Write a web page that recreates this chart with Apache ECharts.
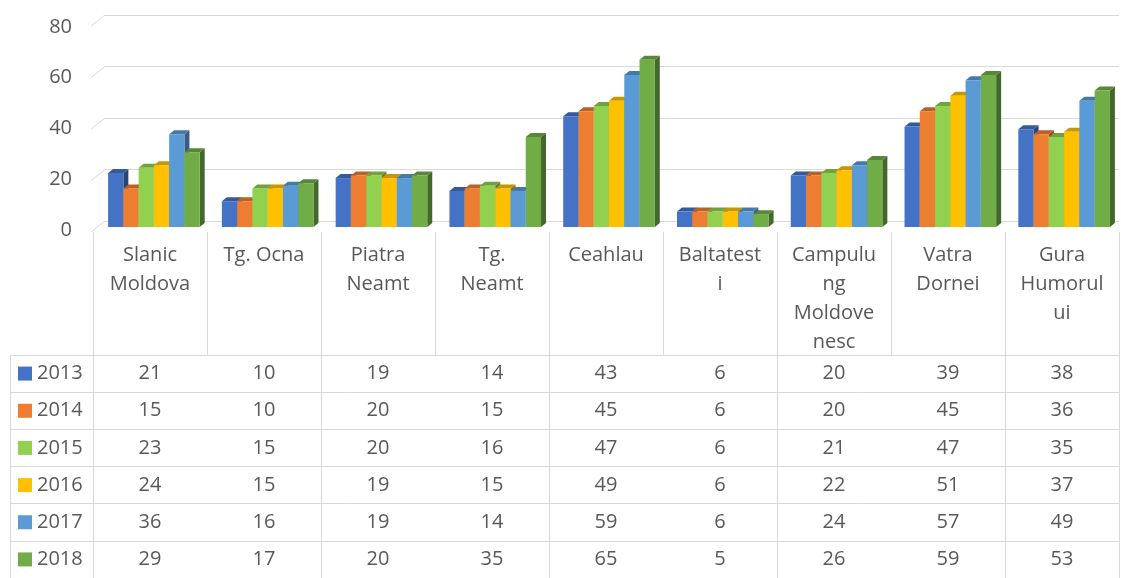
<!DOCTYPE html>
<html>
<head>
<meta charset="utf-8">
<script src="https://cdn.jsdelivr.net/npm/echarts@6/dist/echarts.min.js"></script>
<style>
  html, body { margin: 0; padding: 0; background: #fff; }
  #chart { width: 1121px; height: 578px; }
</style>
</head>
<body>
<div id="chart"></div>
<script>
const categories = ["Slanic Moldova", "Tg. Ocna", "Piatra Neamt", "Tg. Neamt", "Ceahlau", "Baltatesti", "Campulung Moldovenesc", "Vatra Dornei", "Gura Humorului"];
// wrapped the way the original table header breaks them
const categoryLabels = ["Slanic\nMoldova", "Tg. Ocna", "Piatra\nNeamt", "Tg.\nNeamt", "Ceahlau", "Baltatest\ni", "Campulu\nng\nMoldove\nnesc", "Vatra\nDornei", "Gura\nHumorul\nui"];
const years = ["2013", "2014", "2015", "2016", "2017", "2018"];
const values2013 = [21, 10, 19, 14, 43, 6, 20, 39, 38];
const values2014 = [15, 10, 20, 15, 45, 6, 20, 45, 36];
const values2015 = [23, 15, 20, 16, 47, 6, 21, 47, 35];
const values2016 = [24, 15, 19, 15, 49, 6, 22, 51, 37];
const values2017 = [36, 16, 19, 14, 59, 6, 24, 57, 49];
const values2018 = [29, 17, 20, 35, 65, 5, 26, 59, 53];
const yTicks = [0, 20, 40, 60, 80];

const allValues = [values2013, values2014, values2015, values2016, values2017, values2018];
const colors = ["#4472c4", "#ed7d31", "#92d050", "#ffc000", "#5b9bd5", "#70ad47"];
const textColor = "#595959";
const lineColor = "#d9d9d9";
const font = "Open Sans";

const chart = echarts.init(document.getElementById("chart"));

function darken(color, factor) {
  const c = echarts.color.parse(color);
  return `rgb(${Math.round(c[0] * factor)},${Math.round(c[1] * factor)},${Math.round(c[2] * factor)})`;
}

function bar3d(seriesIdx, color) {
  const topColor = darken(color, 0.78);
  const sideColor = darken(color, 0.6);
  return function (params, api) {
    const i = api.value(0);
    const base = api.coord([i, 0]);
    const top = api.coord([i, api.value(1)]);
    const band = api.size([1, 0])[0];
    const w = (band * 0.805) / years.length;
    const x0 = base[0] - band * 0.4025 + seriesIdx * w;
    const x1 = x0 + w;
    const dx = 5, dy = 4;
    return {
      type: "group",
      children: [
        { type: "polygon", shape: { points: [[x1, top[1]], [x1 + dx, top[1] - dy], [x1 + dx, base[1] - dy], [x1, base[1]]] }, style: { fill: sideColor } },
        { type: "polygon", shape: { points: [[x0, top[1]], [x0 + dx, top[1] - dy], [x1 + dx, top[1] - dy], [x1, top[1]]] }, style: { fill: topColor } },
        { type: "rect", shape: { x: x0, y: top[1], width: w, height: base[1] - top[1] }, style: { fill: color } },
      ],
    };
  };
}

const barSeries = years.map((year, k) => ({
  name: year,
  type: "custom",
  xAxisIndex: 2,
  yAxisIndex: 2,
  renderItem: bar3d(k, colors[k]),
  data: allValues[k].map((v, i) => [i, v]),
  silent: true,
}));

const tableData = [];
allValues.forEach((row, r) => row.forEach((v, i) => tableData.push([i, r, v])));

chart.setOption({
  animation: false,
  textStyle: { fontFamily: font },
  grid: [
    { left: 105, right: 2, top: 15, height: 206 },   // back wall gridlines
    { left: 80, width: 10, top: 27, height: 203 },    // y labels
    { left: 97, right: -5, top: 21, height: 206 },   // bars
    { left: 93, right: 2, top: 232, height: 123 },   // table header
    { left: 93, right: 2, top: 355, height: 228 },   // table body
    { left: 10, width: 83, top: 355, height: 228 },   // row headers
  ],
  xAxis: [
    { gridIndex: 0, type: "value", min: 0, max: 1, show: false },
    { gridIndex: 1, type: "value", min: 0, max: 1, show: false },
    { gridIndex: 2, type: "category", data: categories, show: false },
    {
      gridIndex: 3, type: "category", data: categories, position: "top",
      axisLine: { show: false }, axisTick: { show: false },
      splitLine: { show: true, lineStyle: { color: lineColor } },
      axisLabel: {
        inside: true, interval: 0, margin: 9, color: textColor, fontSize: 20, lineHeight: 29,
        verticalAlign: "top", formatter: (v, i) => categoryLabels[i],
      },
    },
    {
      gridIndex: 4, type: "category", data: categories,
      axisLine: { show: false }, axisTick: { show: false }, axisLabel: { show: false },
      splitLine: { show: true, lineStyle: { color: lineColor } },
    },
    { gridIndex: 5, type: "value", min: 0, max: 1, show: false },
  ],
  yAxis: [
    {
      gridIndex: 0, type: "value", min: 0, max: 80, interval: 20,
      axisLine: { show: false }, axisTick: { show: false }, axisLabel: { show: false },
      splitLine: { lineStyle: { color: lineColor } },
    },
    {
      gridIndex: 1, type: "value", min: 0, max: 80, interval: 20,
      axisLine: { show: false }, axisTick: { show: false }, splitLine: { show: false },
      axisLabel: { color: textColor, fontSize: 20, margin: 8 },
    },
    { gridIndex: 2, type: "value", min: 0, max: 80, show: false },
    { gridIndex: 3, type: "value", min: 0, max: 1, show: false },
    {
      gridIndex: 4, type: "category", data: years, inverse: true,
      axisLine: { show: false }, axisTick: { show: false }, axisLabel: { show: false },
      splitLine: { show: true, lineStyle: { color: lineColor } },
    },
    {
      gridIndex: 5, type: "category", data: years, inverse: true,
      axisLine: { show: true, lineStyle: { color: lineColor } }, axisTick: { show: false },
      splitLine: { show: true, lineStyle: { color: lineColor } },
      axisLabel: {
        inside: true, margin: 8, interval: 0,
        formatter: (v, i) => `{s${i}|}{t|${v}}`,
        rich: Object.assign(
          { t: { color: textColor, fontSize: 20, fontFamily: font, padding: [0, 0, 0, 5] } },
          Object.fromEntries(colors.map((c, i) => ["s" + i, { width: 14, height: 14, backgroundColor: c }]))
        ),
      },
    },
  ],
  series: [
    {
      type: "custom",
      xAxisIndex: 0,
      yAxisIndex: 0,
      silent: true,
      data: yTicks.map((v) => [0, v]),
      renderItem: (params, api) => {
        const p = api.coord([0, api.value(1)]);
        return {
          type: "line",
          shape: { x1: p[0] - 14, y1: p[1] + 11, x2: p[0], y2: p[1] },
          style: { stroke: lineColor, lineWidth: 1 },
        };
      },
    },
    ...barSeries,
    {
      type: "custom",
      xAxisIndex: 4,
      yAxisIndex: 4,
      silent: true,
      data: tableData,
      renderItem: (params, api) => {
        const p = api.coord([api.value(0), api.value(1)]);
        return {
          type: "text",
          x: p[0],
          y: p[1],
          style: {
            text: String(api.value(2)),
            align: "center",
            verticalAlign: "middle",
            fill: textColor,
            fontSize: 20,
            fontFamily: font,
          },
        };
      },
    },
  ],
});
</script>
</body>
</html>
